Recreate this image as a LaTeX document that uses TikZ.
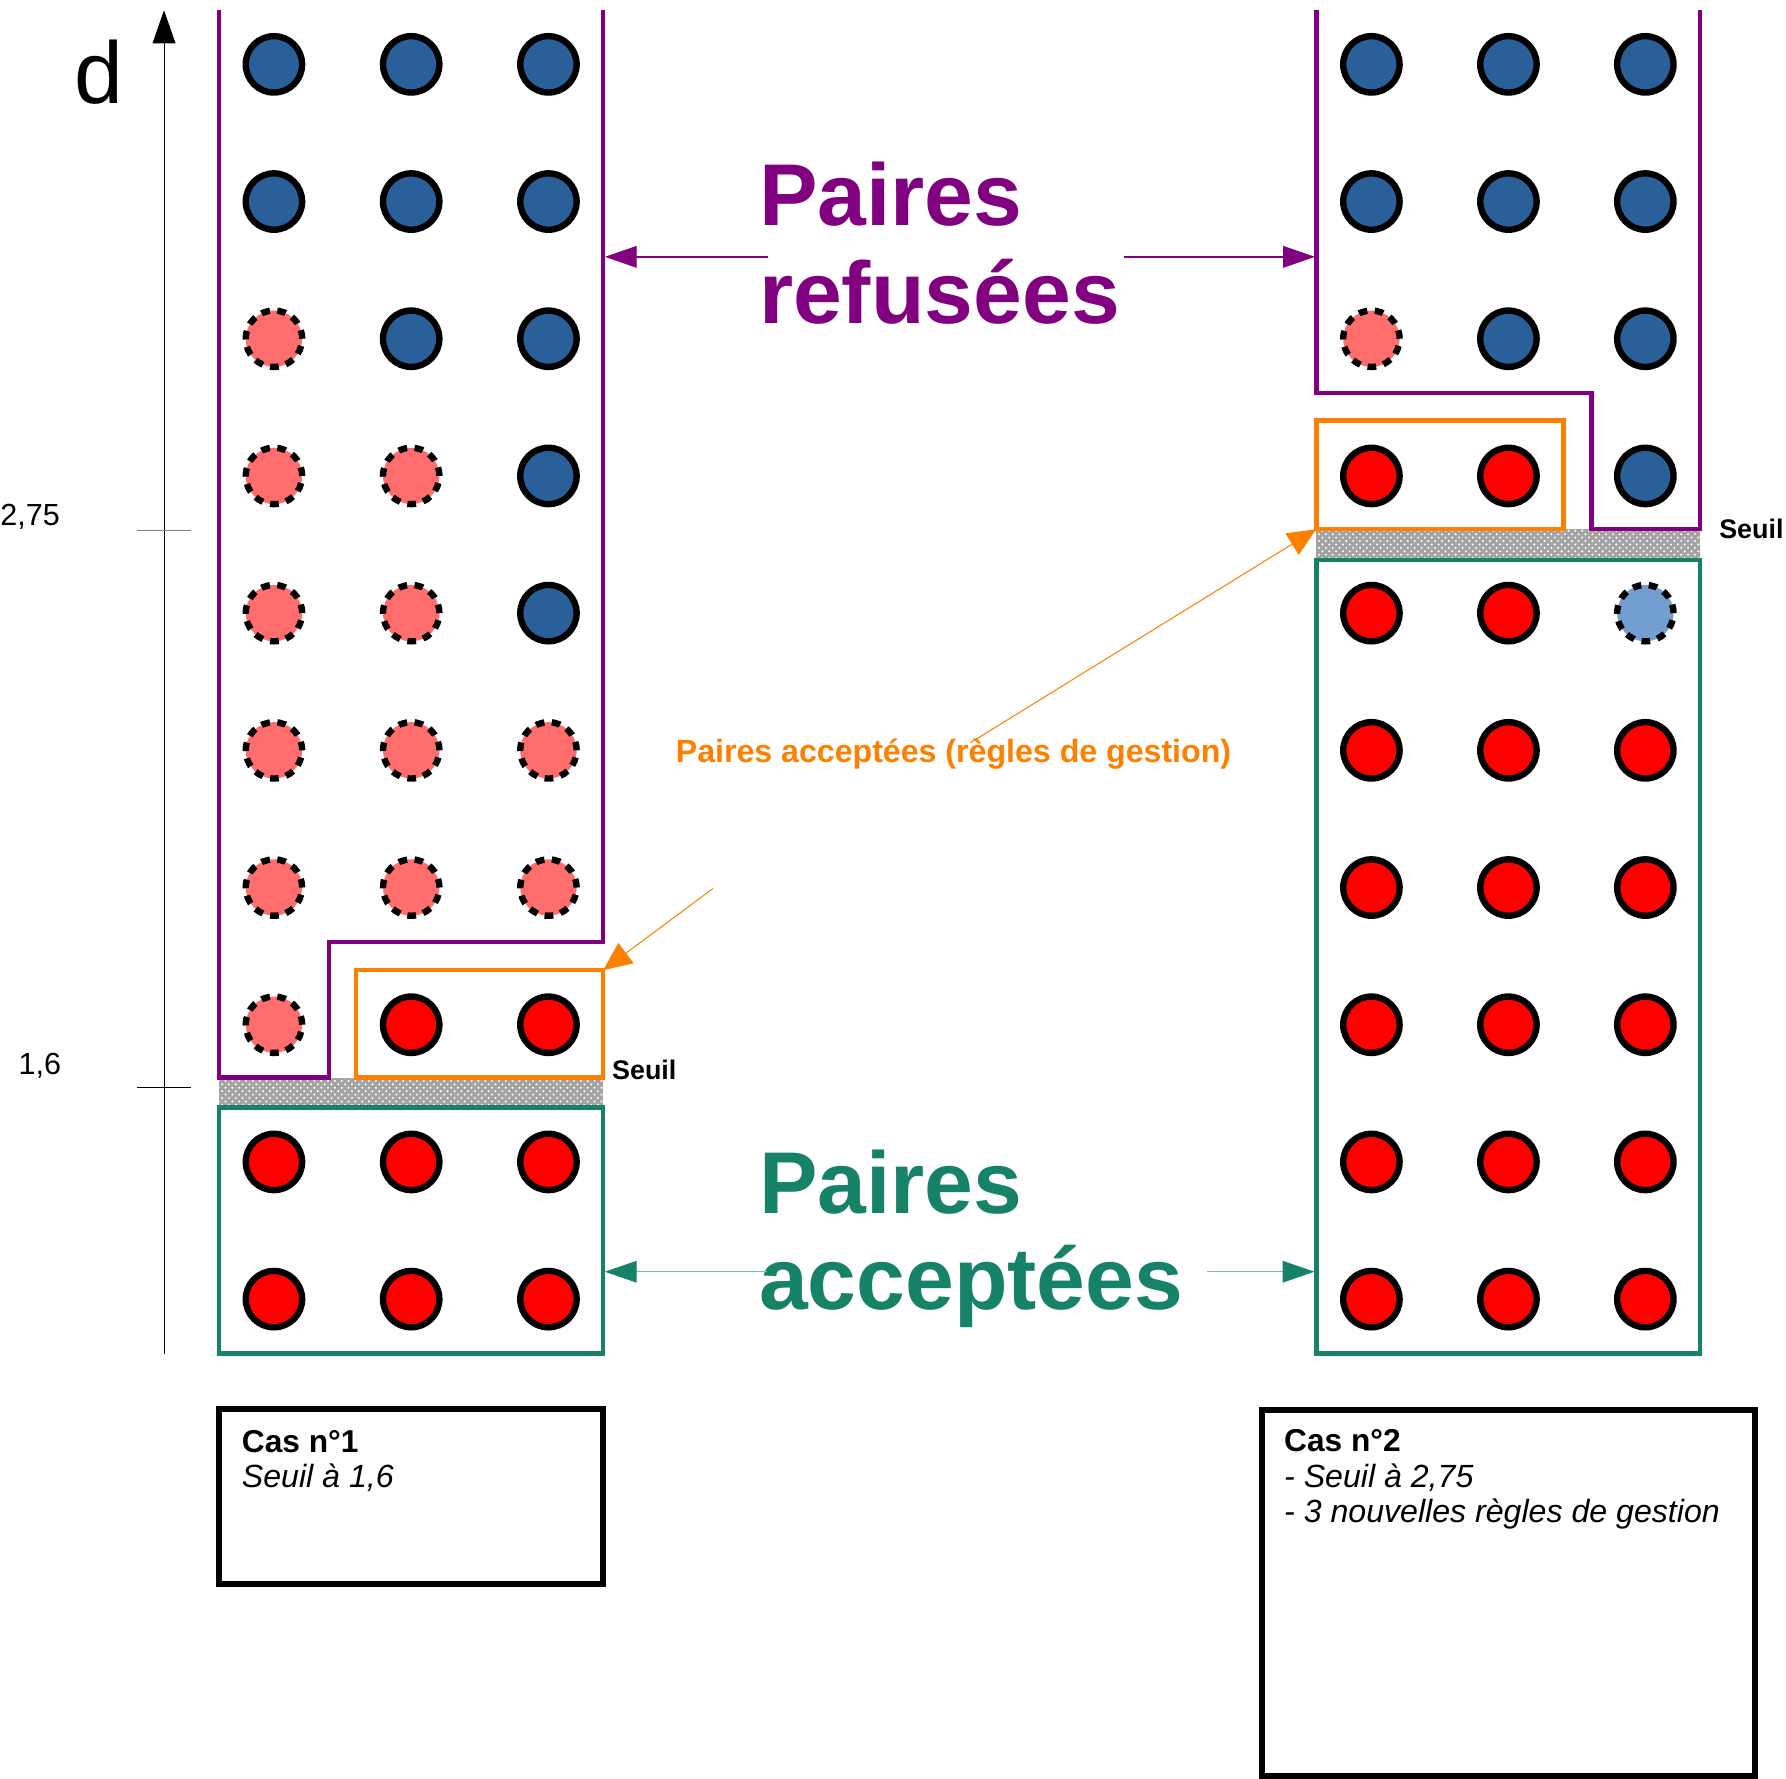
\documentclass[tikz,border=0pt]{standalone}
\usepackage{fontspec}
\setmainfont{Liberation Sans}
\usetikzlibrary{arrows.meta,patterns}
\definecolor{cblue}{HTML}{2A6099}
\definecolor{cred}{HTML}{FF0000}
\definecolor{cpink}{HTML}{FF6D6D}
\definecolor{clblue}{HTML}{729FCF}
\definecolor{cpurple}{HTML}{800080}
\definecolor{corange}{HTML}{FF8000}
\definecolor{cgreen}{HTML}{168368}
\begin{document}
\begin{tikzpicture}[x=0.5pt,y=-0.5pt,
  dot/.style={circle, draw=black, line width=2.8pt, minimum size=24.75pt, inner sep=0pt, outer sep=0pt},
  dotb/.style={dot, fill=cblue},
  dotr/.style={dot, fill=cred},
  dotp/.style={dot, fill=cpink, dash pattern=on 3.8pt off 3.27pt},
  dotl/.style={dot, fill=clblue, dash pattern=on 3.8pt off 3.27pt},
  purpline/.style={draw=cpurple, line width=2pt, line join=miter},
  orbox/.style={draw=corange, line width=2pt, rectangle, inner sep=0pt, outer sep=0pt},
  grbox/.style={draw=cgreen, line width=2pt, rectangle, inner sep=0pt, outer sep=0pt},
  casebox/.style={draw=black, line width=2.65pt, rectangle, inner sep=0pt, outer sep=0pt},
  band/.style={fill=gray!72},
  bandpat/.style={pattern=crosshatch dots, pattern color=white},
  parr/.style={draw=cpurple, line width=0.6pt, -{Triangle[length=14pt,width=9.5pt,color=cpurple]}},
  garr/.style={draw=cgreen!55, line width=0.6pt, -{Triangle[length=14pt,width=9.5pt,color=cgreen]}},
  oarr/.style={draw=corange, line width=0.45pt, -{Triangle[length=12.5pt,width=11pt,color=corange]}},
  bigtxt/.style={anchor=base west, inner sep=0pt, font=\fontsize{38.5pt}{40pt}\selectfont\bfseries},
  seuil/.style={anchor=base west, inner sep=0pt, font=\fontsize{11.8pt}{13pt}\selectfont\bfseries},
  ticklab/.style={anchor=base west, inner sep=0pt, font=\fontsize{13.4pt}{15pt}\selectfont},
  casetitle/.style={anchor=base west, inner sep=0pt, font=\fontsize{13.9pt}{16pt}\selectfont\bfseries},
  caseline/.style={anchor=base west, inner sep=0pt, font=\fontsize{14.1pt}{16pt}\selectfont\itshape}
]
\useasboundingbox (0,0) rectangle (1568,1561);

% threshold bands
\fill[band] (192.3,946) rectangle (529.5,972.5);
\path[bandpat] (192.3,946) rectangle (529.5,972.5);
\fill[band] (1155.6,464.6) rectangle (1492.6,491.5);
\path[bandpat] (1155.6,464.6) rectangle (1492.6,491.5);

% purple refused regions
\draw[purpline] (192.3,8.8) -- (192.3,946) -- (289,946) -- (289,827) -- (529.5,827) -- (529.5,8.8);
\draw[purpline] (1155.6,8.8) -- (1155.6,345) -- (1397,345) -- (1397,464.6) -- (1492.6,464.6) -- (1492.6,8.8);

% orange and green boxes
\node[orbox, minimum width=108.45pt, minimum height=47.15pt] (O1) at (421.05,898.85) {};
\node[orbox, minimum width=108.45pt, minimum height=47.6pt] (O2) at (1264.05,417) {};
\node[grbox, minimum width=168.6pt, minimum height=108pt] (G1) at (360.9,1080.5) {};
\node[grbox, minimum width=168.5pt, minimum height=348.5pt] (G2) at (1324.1,840) {};

% circles, case 1
\foreach \r/\a/\b/\c in {1/b/b/b,2/b/b/b,3/p/b/b,4/p/p/b,5/p/p/b,6/p/p/p,7/p/p/p,8/p/r/r,9/r/r/r,10/r/r/r}{
  \pgfmathsetmacro\yy{56.5+(\r-1)*120.45}
  \node[dot\a] (L\r-1) at (240.5,\yy) {};
  \node[dot\b] (L\r-2) at (361,\yy) {};
  \node[dot\c] (L\r-3) at (481.5,\yy) {};
}
% circles, case 2
\foreach \r/\a/\b/\c in {1/b/b/b,2/b/b/b,3/p/b/b,4/r/r/b,5/r/r/l,6/r/r/r,7/r/r/r,8/r/r/r,9/r/r/r,10/r/r/r}{
  \pgfmathsetmacro\yy{56.5+(\r-1)*120.45}
  \node[dot\a] (R\r-1) at (1204,\yy) {};
  \node[dot\b] (R\r-2) at (1324.3,\yy) {};
  \node[dot\c] (R\r-3) at (1444.5,\yy) {};
}

% axis
\coordinate (ax0) at (144,1188.5);
\coordinate (ax1) at (144,9);
\draw[line width=0.45pt, -{Triangle[length=14.5pt,width=10pt]}] (ax0) -- (ax1);
\coordinate (tk1a) at (120,466); \coordinate (tk1b) at (168,466);
\coordinate (tk2a) at (120,955); \coordinate (tk2b) at (168,955);
\draw[gray, line width=0.45pt] (tk1a) -- (tk1b);
\draw[black, line width=0.45pt] (tk2a) -- (tk2b);
\node[anchor=base west, inner sep=0pt, font=\fontsize{38.5pt}{40pt}\selectfont] (dlab) at (65,91) {d};
\node[ticklab] (t275) at (0,461) {2,75};
\node[ticklab] (t16) at (16,943) {1,6};

% purple labels and arrows
\node[bigtxt, text=cpurple] (ref1) at (666,197.6) {Paires};
\node[bigtxt, text=cpurple] (ref2) at (666,283.8) {refusées};
\coordinate (pa1s) at (674,225.5); \coordinate (pa1e) at (531,225.5);
\coordinate (pa2s) at (987,225.5); \coordinate (pa2e) at (1154.5,225.5);
\draw[parr] (pa1s) -- (pa1e);
\draw[parr] (pa2s) -- (pa2e);

% green labels and arrows
\node[bigtxt, text=cgreen] (acc1) at (666,1065) {Paires};
\node[bigtxt, text=cgreen] (acc2) at (666,1150) {acceptées};
\coordinate (ga1s) at (673,1116.5); \coordinate (ga1e) at (531,1116.5);
\coordinate (ga2s) at (1060,1116.5); \coordinate (ga2e) at (1154,1116.5);
\draw[garr] (ga1s) -- (ga1e);
\draw[garr] (ga2s) -- (ga2e);

% orange label and arrows
\node[anchor=base west, inner sep=0pt, text=corange, font=\fontsize{14.1pt}{16pt}\selectfont\bfseries] (olab) at (593,669.6) {Paires acceptées (règles de gestion)};
\coordinate (oa1s) at (852,652);
\coordinate (oa2s) at (626,780);
\draw[oarr] (oa1s) -- (O2.south west);
\draw[oarr] (oa2s) -- (O1.north east);

% seuil labels
\node[seuil] (s1) at (537,948) {Seuil};
\node[seuil] (s2) at (1509,473) {Seuil};

% case boxes
\node[casebox, minimum width=168.75pt, minimum height=77pt] (C1) at (360.75,1314) {};
\node[casebox, minimum width=216.5pt, minimum height=160.5pt] (C2) at (1324.5,1398.5) {};
\node[casetitle] (c1t) at (212,1275) {Cas n°1};
\node[caseline] (c1a) at (212,1306) {Seuil à 1,6};
\node[casetitle] (c2t) at (1127,1274) {Cas n°2};
\node[caseline] (c2a) at (1127,1306) {- Seuil à 2,75};
\node[caseline] (c2b) at (1127,1337) {- 3 nouvelles règles de gestion};
\end{tikzpicture}
\end{document}
